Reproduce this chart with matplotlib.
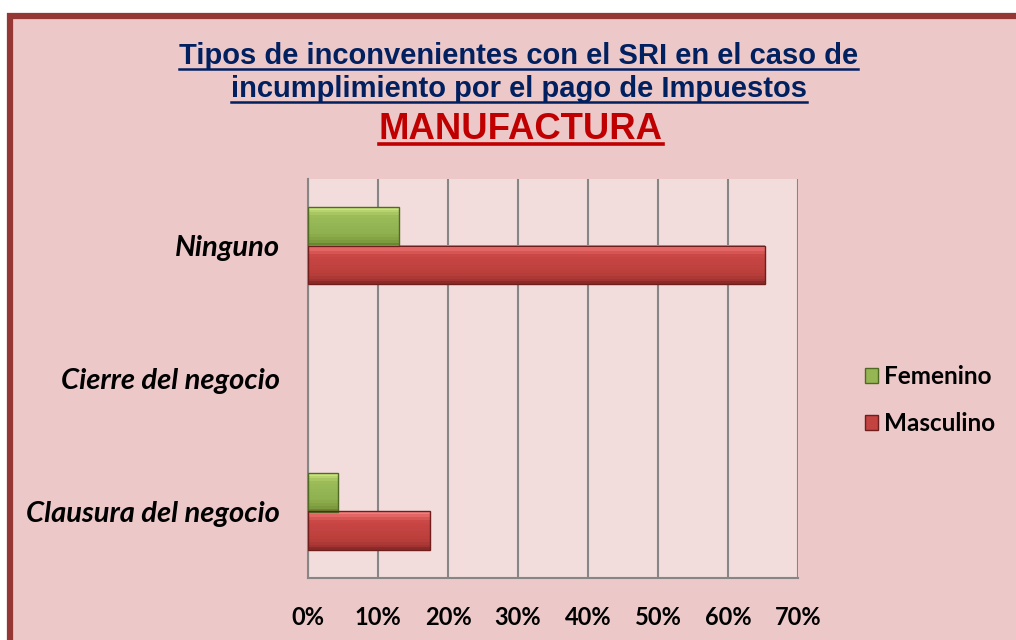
import matplotlib
matplotlib.use("Agg")
import matplotlib.pyplot as plt
import numpy as np
from matplotlib.patches import Rectangle
from matplotlib.lines import Line2D
from matplotlib.ticker import PercentFormatter
from matplotlib.colors import LinearSegmentedColormap

# --- data (percent of respondents) ---
categories = ['Clausura del negocio', 'Cierre del negocio', 'Ninguno']
femenino = [4.35, 0.0, 13.04]
masculino = [17.39, 0.0, 65.22]
x_ticks = [0, 10, 20, 30, 40, 50, 60, 70]
series_names = ['Femenino', 'Masculino']

title_lines = ['Tipos de inconvenientes con el SRI en el caso de',
               'incumplimiento por el pago de Impuestos']
subtitle = 'MANUFACTURA'

W, H = 1016, 640
fig = plt.figure(figsize=(W / 100, H / 100), dpi=100)
fig.patch.set_facecolor('white')

# chart frame with dark red border (runs off right/bottom edge)
frame = Rectangle((10 / W, -0.05), 1.1, (H - 15.5) / H + 0.05,
                  transform=fig.transFigure, facecolor='#ecc8c8',
                  edgecolor='#953735', linewidth=4.5, zorder=-5)
fig.patches.append(frame)

ax = fig.add_axes([308 / W, 62 / H, 490 / W, 399 / H])
ax.set_facecolor('#f2dcdc')
ax.set_zorder(2)

y = np.arange(len(categories))
h = 0.29

# vertical shading profile (bottom -> top) to mimic the bevelled bars
green_cm = LinearSegmentedColormap.from_list(
    'g', [(0, '#5f7d2c'), (0.12, '#7f9f40'), (0.3, '#8fb04e'),
          (0.75, '#9bbb59'), (0.88, '#b2d06a'), (1, '#d2ec86')])
red_cm = LinearSegmentedColormap.from_list(
    'r', [(0, '#7e2624'), (0.12, '#a63634'), (0.3, '#bb3f3c'),
          (0.75, '#c94745'), (0.88, '#e06160'), (1, '#f78a88')])


def bevel_bars(ypos, vals, cmap, edge, n=14):
    vals = np.asarray(vals)
    keep = vals > 0
    ypos, vals = ypos[keep], vals[keep]
    for i in range(n):
        frac = (i + 0.5) / n
        ax.barh(ypos - h / 2 + h * i / n, vals, height=h / n * 1.05,
                align='edge', color=cmap(frac), linewidth=0, zorder=3)
    main = ax.barh(ypos, vals, height=h, facecolor='none', edgecolor=edge,
                   linewidth=1.0, zorder=4)
    return main


bevel_bars(y + h / 2, femenino, green_cm, '#4f6a22')
bevel_bars(y - h / 2, masculino, red_cm, '#6e1e1c')

ax.set_xlim(0, 70)
ax.set_ylim(-0.5, len(categories) - 0.5)
ax.set_xticks(x_ticks)
ax.xaxis.set_major_formatter(PercentFormatter(decimals=0))
ax.set_yticks(y)
ax.set_yticklabels(categories)
ax.tick_params(axis='both', length=0)
ax.tick_params(axis='x', pad=20)
ax.tick_params(axis='y', pad=20)
for lab in ax.get_xticklabels():
    lab.set_fontfamily('Lato')
    lab.set_fontweight('bold')
    lab.set_fontsize(17)
for lab in ax.get_yticklabels():
    lab.set_fontfamily('Lato')
    lab.set_fontweight('bold')
    lab.set_fontstyle('italic')
    lab.set_fontsize(21)

ax.xaxis.grid(True, color='#868686', linewidth=1.5)
ax.set_axisbelow(True)
for side in ['top', 'right']:
    ax.spines[side].set_visible(False)
for side in ['left', 'bottom']:
    ax.spines[side].set_color('#868686')
    ax.spines[side].set_linewidth(1.5)

handles = [Rectangle((0, 0), 1, 1, facecolor=green_cm(0.55), edgecolor='#4f6a22'),
           Rectangle((0, 0), 1, 1, facecolor=red_cm(0.55), edgecolor='#6e1e1c')]
leg = fig.legend(handles, series_names, loc='upper left',
                 bbox_to_anchor=(843 / W, 1 - 343 / H),
                 frameon=False, handlelength=0.55, handleheight=0.55,
                 handletextpad=0.25, labelspacing=1.0,
                 prop={'family': 'Lato', 'weight': 'bold', 'size': 17.5})

# titles with underline
title_texts = []
for line, base_y in zip(title_lines, [64, 97]):
    t = fig.text(0.5105, 1 - base_y / H, line, ha='center', va='baseline',
                 fontfamily='Liberation Sans', fontweight='bold',
                 fontsize=21, color='#002060')
    title_texts.append((t, base_y, '#002060', 1.8))
t = fig.text(0.5125, 1 - 139 / H, subtitle, ha='center', va='baseline',
             fontfamily='Liberation Sans', fontweight='bold',
             fontsize=26.3, color='#c00000')
title_texts.append((t, 139, '#c00000', 2.6))

fig.canvas.draw()
renderer = fig.canvas.get_renderer()
for t, base_y, col, lw in title_texts:
    bb = t.get_window_extent(renderer)
    uy = 1 - (base_y + 4.5) / H
    fig.add_artist(Line2D([bb.x0 / W, bb.x1 / W], [uy, uy],
                          transform=fig.transFigure, color=col, linewidth=lw))

fig.savefig('out.png', dpi=100, facecolor=fig.get_facecolor())
